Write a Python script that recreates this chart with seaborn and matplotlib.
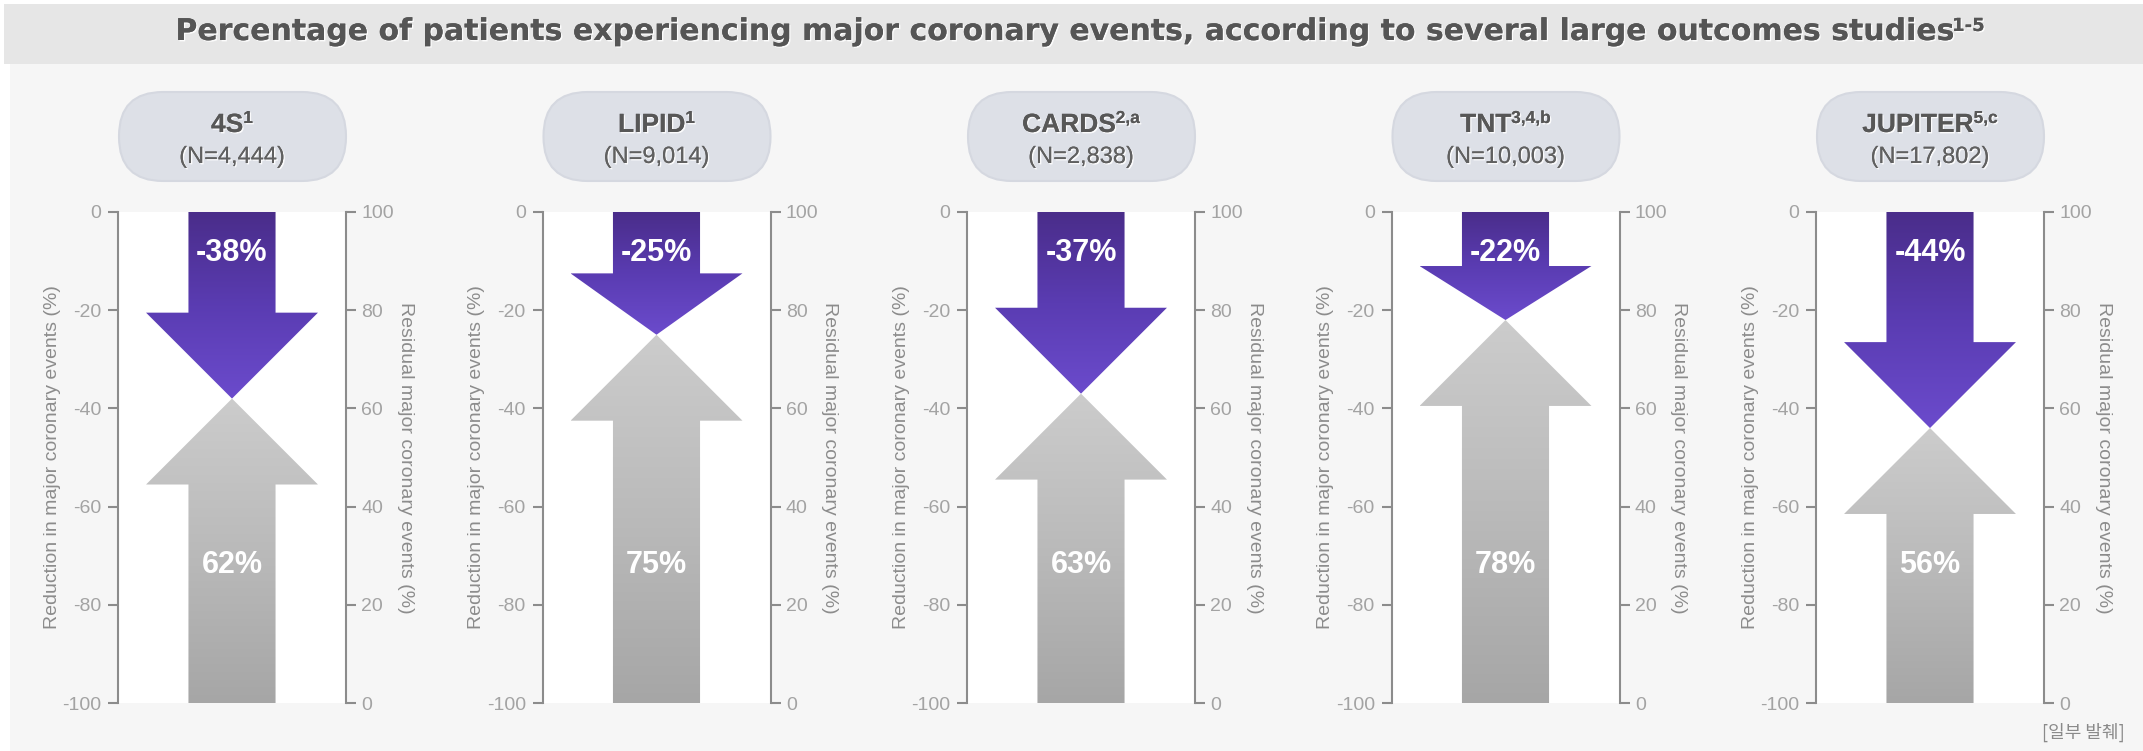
import numpy as np
import matplotlib
matplotlib.use("Agg")
import matplotlib.pyplot as plt
import seaborn as sns
from matplotlib.patches import Polygon, Rectangle, FancyBboxPatch
from matplotlib.colors import LinearSegmentedColormap
import matplotlib.patheffects as pe

# ---------------- data ----------------
studies = ["4S", "LIPID", "CARDS", "TNT", "JUPITER"]
study_refs = ["1", "1", "2,a", "3,4,b", "5,c"]
study_n = ["4,444", "9,014", "2,838", "10,003", "17,802"]
reduction = [38, 25, 37, 22, 44]          # % reduction in major coronary events
residual = [62, 75, 63, 78, 56]           # % residual major coronary events
left_ticks = [0, -20, -40, -60, -80, -100]
right_ticks = [100, 80, 60, 40, 20, 0]
title_main = "Percentage of patients experiencing major coronary events, according to several large outcomes studies"
title_sup = "1-5"
left_label = "Reduction in major coronary events (%)"
right_label = "Residual major coronary events (%)"
note = "[일부 발췌]"

# ---------------- style ----------------
sns.set_theme(style="white")
plt.rcParams["font.family"] = ["Liberation Sans", "DejaVu Sans"]

W, H = 2143, 751
fig = plt.figure(figsize=(W / 100, H / 100), dpi=100)
fig.patch.set_facecolor("white")

bg = fig.add_axes([0, 0, 1, 1])
bg.set_xlim(0, W)
bg.set_ylim(H, 0)
bg.axis("off")
bg.set_zorder(0)
bg.add_patch(Rectangle((10, 64), W - 10, H - 64, color="#f6f6f6", lw=0))
bg.add_patch(Rectangle((4, 4), W - 4, 60, color="#e6e6e6", lw=0))

renderer = fig.canvas.get_renderer()
shadow = [pe.withSimplePatchShadow(offset=(1, -1), shadow_rgbFace="white", alpha=0.9), pe.Normal()]


def sup_text(xc, base, main, sup, size, supsize, sup_base, weight, color, family=None, gap=0):
    kw = {"family": family} if family else {}
    t = bg.text(0, base, main, ha="left", va="baseline", fontsize=size,
                fontweight=weight, color=color, path_effects=shadow, **kw)
    s = bg.text(0, sup_base, sup, ha="left", va="baseline", fontsize=supsize,
                fontweight=weight, color=color, path_effects=shadow, **kw)
    wm = t.get_window_extent(renderer).width
    ws = s.get_window_extent(renderer).width if sup else 0
    x0 = xc - (wm + ws + gap) / 2
    t.set_x(x0)
    s.set_x(x0 + wm + gap)
    return t


# title: fit the main text to the width it spans in the reference
title_family = ["DejaVu Sans"]
probe = bg.text(0, 0, title_main, fontsize=20, fontweight="bold", family=title_family)
tw = probe.get_window_extent(renderer).width
probe.remove()
title_size = 20 * 1780 / tw
sup_text(1080, 40, title_main, title_sup, title_size, 13, 31, "bold", "#555555",
         family=title_family, gap=3)

# panels
panel_left0 = 118
panel_step = 424.5
panel_w = 228
ax_top, ax_bot = 212, 703

purple_cmap = LinearSegmentedColormap.from_list("p", ["#6b4bcc", "#5a3cb2", "#4a2d8a"])
gray_cmap = LinearSegmentedColormap.from_list("g", ["#a6a6a6", "#bababa", "#cccccc"])

shaft_hw = 0.191
head_hw = 0.377
head_len = 17.5

for i, (name, ref, n, red, res) in enumerate(zip(studies, study_refs, study_n, reduction, residual)):
    left = panel_left0 + i * panel_step
    # pill header
    bg.add_patch(FancyBboxPatch((left + 1, 92), panel_w - 1, 89,
                                boxstyle="round,pad=0,rounding_size=44",
                                facecolor="#dde0e7", edgecolor="#d5d8e0", lw=1.5))
    xc = left + panel_w / 2
    sup_text(xc, 132, name, ref, 19, 12.5, 123, "bold", "#575757")
    bg.text(xc, 163, f"(N={n})", ha="center", va="baseline", fontsize=17,
            color="#606060", path_effects=shadow)

    ax = fig.add_axes([left / W, (H - ax_bot) / H, panel_w / W, (ax_bot - ax_top) / H])
    ax.set_zorder(1)
    ax.set_facecolor("white")
    ax.set_xlim(-0.5, 0.5)
    ax.set_ylim(-100, 0)
    ax.set_xticks([])
    ax.set_yticks(left_ticks)
    ax.set_yticklabels([str(t) for t in left_ticks])
    for sp in ["top", "bottom", "right"]:
        ax.spines[sp].set_visible(False)
    ax.spines["left"].set_color("#8c8c8c")
    ax.spines["left"].set_linewidth(1.5)
    ax.tick_params(axis="y", left=True, direction="out", length=7, width=1.5,
                   color="#8c8c8c", labelcolor="#a3a3a3", labelsize=14, pad=5)

    ax2 = ax.twinx()
    ax2.set_ylim(0, 100)
    ax2.set_yticks(right_ticks)
    ax2.set_yticklabels([str(t) for t in right_ticks])
    for sp in ["top", "bottom", "left"]:
        ax2.spines[sp].set_visible(False)
    ax2.spines["right"].set_color("#8c8c8c")
    ax2.spines["right"].set_linewidth(1.5)
    ax2.tick_params(axis="y", right=True, direction="out", length=7, width=1.5,
                    color="#8c8c8c", labelcolor="#a3a3a3", labelsize=14, pad=4)

    grad = np.linspace(0, 1, 256).reshape(-1, 1)

    # purple downward arrow (reduction), left-axis units
    hp = min(head_len, red / 2)
    base = -(red - hp)
    pts = [(-shaft_hw, 0), (shaft_hw, 0), (shaft_hw, base), (head_hw, base),
           (0, -red), (-head_hw, base), (-shaft_hw, base)]
    poly = Polygon(pts, closed=True, facecolor="none", edgecolor="none", transform=ax.transData)
    ax.add_patch(poly)
    im = ax.imshow(grad, extent=[-head_hw, head_hw, -red, 0], origin="lower",
                   aspect="auto", cmap=purple_cmap, interpolation="bicubic", zorder=2)
    im.set_clip_path(poly)

    # gray upward arrow (residual), right-axis units
    gbase = res - head_len
    gpts = [(-shaft_hw, 0), (shaft_hw, 0), (shaft_hw, gbase), (head_hw, gbase),
            (0, res), (-head_hw, gbase), (-shaft_hw, gbase)]
    gpoly = Polygon(gpts, closed=True, facecolor="none", edgecolor="none", transform=ax2.transData)
    ax2.add_patch(gpoly)
    gim = ax2.imshow(grad, extent=[-head_hw, head_hw, 0, res], origin="lower",
                     aspect="auto", cmap=gray_cmap, interpolation="bicubic", zorder=2)
    gim.set_clip_path(gpoly)

    ax.set_xlim(-0.5, 0.5)
    ax.set_ylim(-100, 0)
    ax2.set_ylim(0, 100)

    ax.text(0, -8.4, f"-{red}%", ha="center", va="center", fontsize=22,
            fontweight="bold", color="white", zorder=5)
    ax2.text(0, 28.1, f"{res}%", ha="center", va="center", fontsize=22,
             fontweight="bold", color="white", zorder=5)

    ax.text(-0.289, 0.5, left_label, transform=ax.transAxes, rotation=90,
            ha="center", va="center", fontsize=14, color="#8c8c8c")
    ax.text(1.259, 0.5, right_label, transform=ax.transAxes, rotation=270,
            ha="center", va="center", fontsize=14, color="#8c8c8c")

bg.text(2125, 732, note, ha="right", va="center", fontsize=13, color="#8a8a8a",
        family=["Noto Sans CJK KR", "DejaVu Sans"])

fig.savefig("out.png", dpi=100, facecolor=fig.get_facecolor())
